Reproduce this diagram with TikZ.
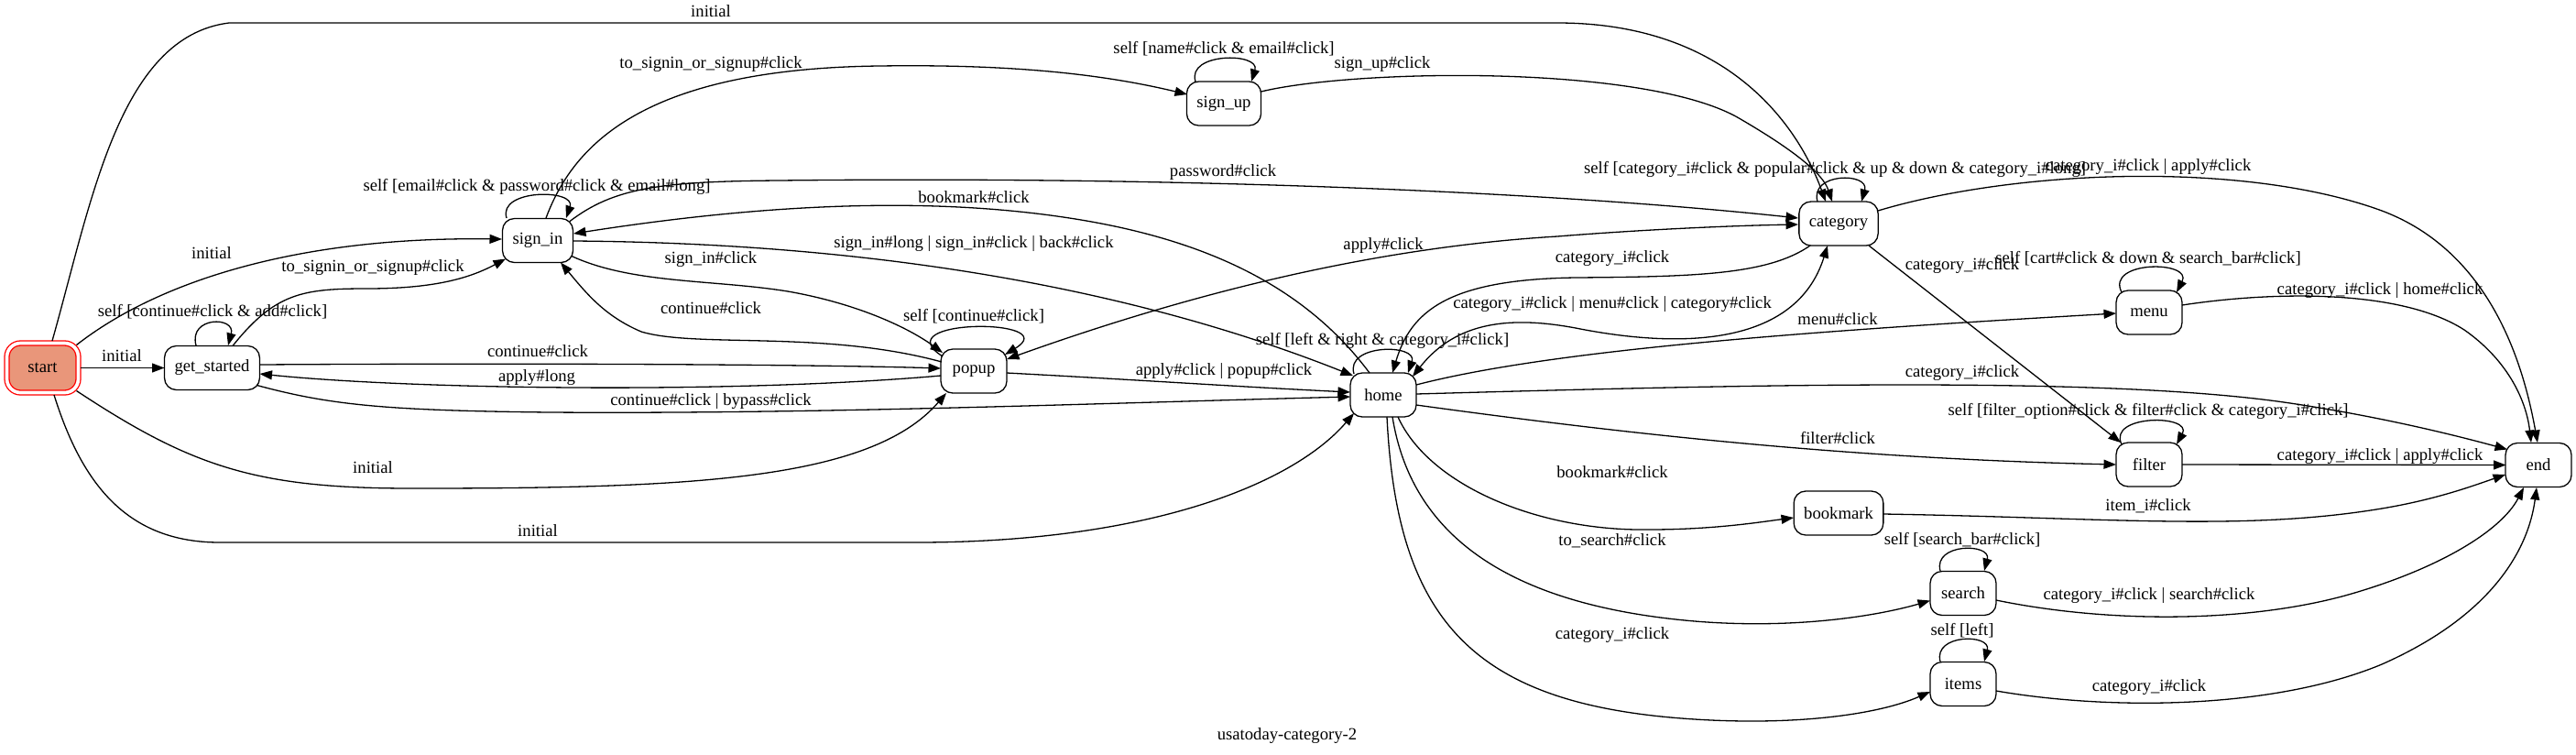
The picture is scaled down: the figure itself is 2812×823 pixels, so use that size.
\documentclass[tikz,border=0pt]{standalone}
\usepackage{fontspec}
\setmainfont{Liberation Serif}
\usetikzlibrary{arrows.meta,calc}
\definecolor{startfill}{HTML}{E9967A}
\begin{document}
\begin{tikzpicture}[x=1pt,y=-1pt,
  font=\fontsize{18.67}{22}\selectfont,
  stbox/.style={draw, line width=1.3pt, rounded corners=13pt, minimum width=72pt, minimum height=48pt, inner xsep=11pt, inner ysep=0pt},
  startbox/.style={stbox, draw=red, fill=startfill, double=white, double distance=3.7pt, minimum width=78pt, minimum height=54pt, rounded corners=15pt},
  lab/.style={inner sep=0pt, text height=13pt, text depth=4pt},
  arr/.style={line width=1.3pt, -{Triangle[length=13.5pt,width=10pt]}},
  arrboth/.style={line width=1.3pt, {Triangle[length=13.5pt,width=10pt]}-{Triangle[length=13.5pt,width=10pt]}}
]
\fill[white] (0,0) rectangle (2812,823);
\useasboundingbox (0,0) rectangle (2812,823);

% nodes
\node[startbox] (nstart) at (46.5,401.5) {start};
\node[stbox] (ngs) at (231.5,401.5) {get\_started};
\node[stbox] (nsignin) at (587,262.5) {sign\_in};
\node[stbox] (nsignup) at (1336,113) {sign\_up};
\node[stbox] (npopup) at (1063,405) {popup};
\node[stbox] (nhome) at (1510,431) {home};
\node[stbox] (ncat) at (2007,244) {category};
\node[stbox] (nmenu) at (2346,341) {menu};
\node[stbox] (nfilter) at (2346,507) {filter};
\node[stbox] (nbook) at (2007,560) {bookmark};
\node[stbox] (nsearch) at (2143,647.5) {search};
\node[stbox] (nitems) at (2143,746.5) {items};
\node[stbox] (nend) at (2771,507.5) {end};

% edges from start
\draw[arr] ($(nstart)+(10.5,-29.5)$) .. controls (100,220) and (130,40) .. (250,25) -- (1700,25) .. controls (1880,25) and (1960,130) .. ($(ncat)+(-14,-24)$);
\draw[arr] ($(nstart)+(37,-25)$) .. controls (175,305) and (330,258) .. ($(nsignin)+(-39,-1.5)$);
\draw[arr] ($(nstart)+(41.5,0)$) -- ($(ngs)+(-52,0)$);
\draw[arr] ($(nstart)+(37,25)$) .. controls (210,510) and (280,533) .. (450,533) .. controls (750,533) and (950,525) .. ($(npopup)+(-30,24)$);
\draw[arr] ($(nstart)+(12.5,29.5)$) .. controls (90,530) and (140,592) .. (240,592) -- (1000,592) .. controls (1250,592) and (1410,530) .. ($(nhome)+(-32,20)$);

% get_started
\draw[arr] ($(ngs)+(-17.5,-24.5)$) .. controls ($(ngs)+(-26,-56.5)$) and ($(ngs)+(26,-56.5)$) .. ($(ngs)+(17.5,-24.5)$);
\draw[arr] ($(ngs)+(22.5,-24)$) .. controls (300,320) and (330,315) .. (400,315) .. controls (470,315) and (510,305) .. ($(nsignin)+(-35,20)$);
\draw[arr] ($(ngs)+(52,-3.5)$) .. controls (600,396) and (900,398) .. ($(npopup)+(-36,-3)$);
\draw[arr] ($(npopup)+(-36,5)$) .. controls (800,430) and (450,425) .. ($(ngs)+(52,6.5)$);
\draw[arr] ($(ngs)+(49,19)$) .. controls (360,442) and (420,448) .. (600,450) .. controls (900,452) and (1200,440) .. ($(nhome)+(-36,2)$);

% sign_in
\draw[arr] ($(nsignin)+(-34,-24.5)$) .. controls ($(nsignin)+(-44,-56.5)$) and ($(nsignin)+(42,-56.5)$) .. ($(nsignin)+(31,-24.5)$);
\draw[arr] ($(nsignin)+(9,-24.5)$) .. controls (625,160) and (700,75) .. (960,72) .. controls (1100,70) and (1200,80) .. ($(nsignup)+(-40,-10)$);
\draw[arr] ($(nsignup)+(-31,-24)$) .. controls ($(nsignup)+(-41,-56)$) and ($(nsignup)+(40,-56)$) .. ($(nsignup)+(30,-24)$);
\draw[arr] ($(nsignup)+(40.5,-13)$) .. controls (1480,75) and (1800,70) .. (1900,130) .. controls (1960,165) and (1990,190) .. ($(ncat)+(-7,-24)$);
\draw[arr] ($(nsignin)+(35,-21)$) .. controls (670,205) and (720,198) .. (850,197) .. controls (1300,192) and (1700,210) .. ($(ncat)+(-44,-6)$);
\draw[arr] ($(nhome)+(-15,-24)$) .. controls (1430,320) and (1330,265) .. (1180,240) .. controls (1030,215) and (850,220) .. ($(nsignin)+(39,-7.5)$);
\draw[arr] ($(nsignin)+(39,0.5)$) .. controls (900,265) and (1200,300) .. ($(nhome)+(-33,-21)$);
\draw[arr] ($(nsignin)+(37,17)$) .. controls (690,310) and (780,305) .. (860,318) .. controls (940,332) and (995,360) .. ($(npopup)+(-34,-20)$);
\draw[arr] ($(npopup)+(-35,-10)$) .. controls (900,360) and (760,380) .. (700,362) .. controls (660,345) and (640,320) .. ($(nsignin)+(25,24)$);

% popup
\draw[arr] ($(npopup)+(-34,-16)$) .. controls ($(npopup)+(-100,-58)$) and ($(npopup)+(100,-58)$) .. ($(npopup)+(34,-18)$);
\draw[arr] ($(npopup)+(36,2)$) .. controls (1250,415) and (1350,422) .. ($(nhome)+(-36,-3)$);
\draw[arrboth] ($(npopup)+(36,-13)$) .. controls (1300,320) and (1500,270) .. (1700,258) .. controls (1800,250) and (1900,246) .. ($(ncat)+(-44,1)$);

% home
\draw[arr] ($(nhome)+(-32,-23)$) .. controls ($(nhome)+(-42,-56)$) and ($(nhome)+(38,-56)$) .. ($(nhome)+(27,-24)$);
\draw[arr] ($(ncat)+(-31,24)$) .. controls (1930,300) and (1850,302) .. (1720,303) .. controls (1580,305) and (1540,340) .. ($(nhome)+(10,-24)$);
\draw[arrboth] ($(nhome)+(32,-20)$) .. controls (1590,350) and (1650,345) .. (1720,358) .. controls (1830,380) and (1960,380) .. ($(ncat)+(-12,24)$);
\draw[arr] ($(nhome)+(36,-11)$) .. controls (1700,380) and (2000,360) .. ($(nmenu)+(-36,1)$);
\draw[arr] ($(nhome)+(36,-1)$) .. controls (1900,420) and (2300,410) .. (2500,440) .. controls (2600,455) and (2680,475) .. ($(nend)+(-34,-17)$);
\draw[arr] ($(nhome)+(36,11)$) .. controls (1750,470) and (2000,500) .. ($(nfilter)+(-36,0)$);
\draw[arr] ($(nhome)+(16,24)$) .. controls (1560,530) and (1680,580) .. (1800,578) .. controls (1870,578) and (1920,570) .. ($(nbook)+(-49,5)$);
\draw[arr] ($(nhome)+(10,24)$) .. controls (1540,580) and (1640,660) .. (1850,678) .. controls (1960,687) and (2050,672) .. ($(nsearch)+(-36,8)$);
\draw[arr] ($(nhome)+(4,24)$) .. controls (1525,680) and (1610,770) .. (1850,785) .. controls (1960,792) and (2050,780) .. ($(nitems)+(-36,8.5)$);

% category
\draw[arr] ($(ncat)+(-23,-24)$) .. controls ($(ncat)+(-32,-56)$) and ($(ncat)+(34,-56)$) .. ($(ncat)+(25,-24)$);
\draw[arr] ($(ncat)+(43,-14)$) .. controls (2200,185) and (2450,175) .. (2600,230) .. controls (2720,275) and (2755,400) .. ($(nend)+(-1,-24.5)$);
\draw[arr] ($(ncat)+(33,24)$) -- ($(nfilter)+(-31,-24)$);

% menu, filter, bookmark, search, items
\draw[arr] ($(nmenu)+(-30,-22)$) .. controls ($(nmenu)+(-48,-57)$) and ($(nmenu)+(48,-57)$) .. ($(nmenu)+(30,-22)$);
\draw[arr] ($(nmenu)+(36,-8)$) .. controls (2480,318) and (2620,315) .. (2690,360) .. controls (2740,395) and (2758,440) .. ($(nend)+(-8,-24.5)$);
\draw[arr] ($(nfilter)+(-30,-22)$) .. controls ($(nfilter)+(-46,-55)$) and ($(nfilter)+(48,-55)$) .. ($(nfilter)+(30,-22)$);
\draw[arr] ($(nfilter)+(36,0)$) -- ($(nend)+(-35.5,0)$);
\draw[arr] ($(nbook)+(49,1)$) .. controls (2300,565) and (2450,580) .. (2600,555) .. controls (2660,545) and (2700,530) .. ($(nend)+(-36,10.5)$);
\draw[arr] ($(nsearch)+(-25,-24.5)$) .. controls ($(nsearch)+(-33,-55)$) and ($(nsearch)+(31,-55)$) .. ($(nsearch)+(23,-24.5)$);
\draw[arr] ($(nsearch)+(36,7.5)$) .. controls (2300,680) and (2450,680) .. (2560,650) .. controls (2660,622) and (2730,580) .. ($(nend)+(-16,24.5)$);
\draw[arr] ($(nitems)+(-25,-24.5)$) .. controls ($(nitems)+(-33,-55)$) and ($(nitems)+(31,-55)$) .. ($(nitems)+(23,-24.5)$);
\draw[arr] ($(nitems)+(36,7.5)$) .. controls (2300,775) and (2480,775) .. (2600,725) .. controls (2720,672) and (2760,600) .. ($(nend)+(-2,24.5)$);

% labels
\node[lab] (l1) at (776,14) {initial};
\node[lab] (l2) at (231,278) {initial};
\node[lab] (l3) at (133,390) {initial};
\node[lab] (l4) at (407,512) {initial};
\node[lab] (l5) at (587,581) {initial};
\node[lab] (l6) at (232,341) {self [continue\#click \& add\#click]};
\node[lab] (l7) at (407,292) {to\_signin\_or\_signup\#click};
\node[lab] (l8) at (587,385) {continue\#click};
\node[lab] (l9) at (586,412) {apply\#long};
\node[lab] (l10) at (776,438) {continue\#click | bypass\#click};
\node[lab] (l11) at (586,204) {self [email\#click \& password\#click \& email\#long]};
\node[lab] (l12) at (776,70) {to\_signin\_or\_signup\#click};
\node[lab] (l13) at (1336,54) {self [name\#click \& email\#click]};
\node[lab] (l14) at (1509,70) {sign\_up\#click};
\node[lab] (l15) at (1335,188) {password\#click};
\node[lab] (l16) at (1063,217) {bookmark\#click};
\node[lab] (l17) at (1063,266) {sign\_in\#long | sign\_in\#click | back\#click};
\node[lab] (l18) at (776,283) {sign\_in\#click};
\node[lab] (l19) at (776,338) {continue\#click};
\node[lab] (l20) at (1063,346) {self [continue\#click]};
\node[lab] (l21) at (1336,405) {apply\#click | popup\#click};
\node[lab] (l22) at (1510,268) {apply\#click};
\node[lab] (l23) at (1509,372) {self [left \& right \& category\_i\#click]};
\node[lab] (l24) at (1760,282) {category\_i\#click};
\node[lab] (l25) at (1760,332) {category\_i\#click | menu\#click | category\#click};
\node[lab] (l26) at (2006,350) {menu\#click};
\node[lab] (l27) at (2142,407) {category\_i\#click};
\node[lab] (l28) at (2006,480) {filter\#click};
\node[lab] (l29) at (1760,517) {bookmark\#click};
\node[lab] (l30) at (1760,591) {to\_search\#click};
\node[lab] (l31) at (1760,693) {category\_i\#click};
\node[lab] (l32) at (2003,185) {self [category\_i\#click \& popular\#click \& up \& down \& category\_i\#long]};
\node[lab] (l33) at (2345,182) {category\_i\#click | apply\#click};
\node[lab] (l34) at (2142,290) {category\_i\#click};
\node[lab] (l35) at (2345,283) {self [cart\#click \& down \& search\_bar\#click]};
\node[lab] (l36) at (2598,317) {category\_i\#click | home\#click};
\node[lab] (l37) at (2345,449) {self [filter\_option\#click \& filter\#click \& category\_i\#click]};
\node[lab] (l38) at (2598,498) {category\_i\#click | apply\#click};
\node[lab] (l39) at (2345,553) {item\_i\#click};
\node[lab] (l40) at (2142,590) {self [search\_bar\#click]};
\node[lab] (l41) at (2346,650) {category\_i\#click | search\#click};
\node[lab] (l42) at (2142,689) {self [left]};
\node[lab] (l43) at (2346,750) {category\_i\#click};
\node[lab] (title) at (1405,803) {usatoday-category-2};
\end{tikzpicture}
\end{document}
